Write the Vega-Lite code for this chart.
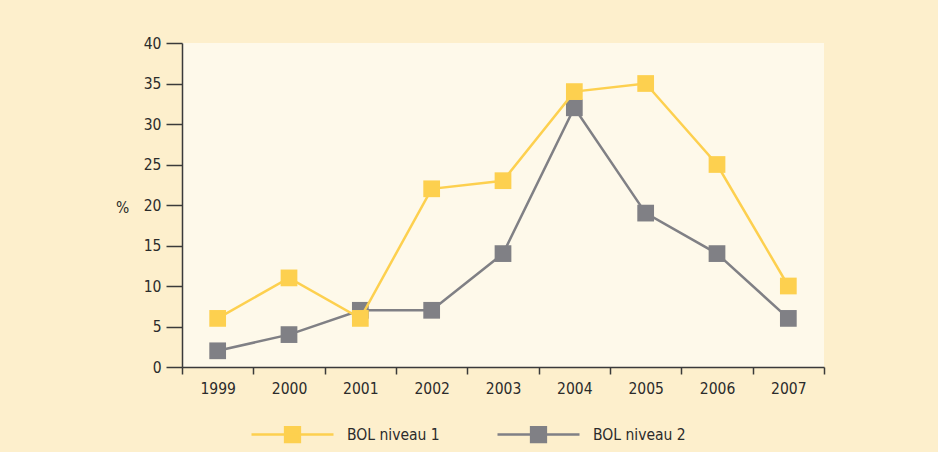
{
  "$schema": "https://vega.github.io/schema/vega-lite/v6.json",
  "width": 642,
  "height": 324,
  "autosize": {"type": "none"},
  "padding": {"left": 182, "top": 43, "right": 114, "bottom": 85},
  "background": "#fdefcc",
  "config": {
    "view": {"fill": "#fef9ea", "stroke": null},
    "font": "Liberation Sans Narrow, DejaVu Sans Condensed, sans-serif"
  },
  "data": {
    "values": [
      {"year": "1999", "series": "BOL niveau 2", "value": 2},
      {"year": "2000", "series": "BOL niveau 2", "value": 4},
      {"year": "2001", "series": "BOL niveau 2", "value": 7},
      {"year": "2002", "series": "BOL niveau 2", "value": 7},
      {"year": "2003", "series": "BOL niveau 2", "value": 14},
      {"year": "2004", "series": "BOL niveau 2", "value": 32},
      {"year": "2005", "series": "BOL niveau 2", "value": 19},
      {"year": "2006", "series": "BOL niveau 2", "value": 14},
      {"year": "2007", "series": "BOL niveau 2", "value": 6},
      {"year": "1999", "series": "BOL niveau 1", "value": 6},
      {"year": "2000", "series": "BOL niveau 1", "value": 11},
      {"year": "2001", "series": "BOL niveau 1", "value": 6},
      {"year": "2002", "series": "BOL niveau 1", "value": 22},
      {"year": "2003", "series": "BOL niveau 1", "value": 23},
      {"year": "2004", "series": "BOL niveau 1", "value": 34},
      {"year": "2005", "series": "BOL niveau 1", "value": 35},
      {"year": "2006", "series": "BOL niveau 1", "value": 25},
      {"year": "2007", "series": "BOL niveau 1", "value": 10}
    ]
  },
  "encoding": {
    "x": {
      "field": "year",
      "type": "ordinal",
      "scale": {"type": "band", "paddingInner": 0, "paddingOuter": 0},
      "axis": {
        "title": null,
        "tickBand": "extent",
        "labelAngle": 0,
        "tickSize": 7,
        "tickWidth": 1.5,
        "tickColor": "#3a3a3a",
        "domainColor": "#3a3a3a",
        "domainWidth": 1.5,
        "labelFontSize": 15.5,
        "labelColor": "#2b2b2b",
        "labelPadding": 7,
        "grid": false
      }
    },
    "y": {
      "field": "value",
      "type": "quantitative",
      "scale": {"domain": [0, 40], "nice": false},
      "axis": {
        "values": [0, 5, 10, 15, 20, 25, 30, 35, 40],
        "title": "%",
        "titleAngle": 0,
        "titleX": -60,
        "titleY": 164,
        "titleAlign": "center",
        "titleBaseline": "middle",
        "titleFontWeight": "normal",
        "titleFontSize": 15.5,
        "titleColor": "#2b2b2b",
        "tickSize": 16,
        "tickWidth": 1.5,
        "tickColor": "#3a3a3a",
        "domainColor": "#3a3a3a",
        "domainWidth": 1.5,
        "labelFontSize": 15.5,
        "labelColor": "#2b2b2b",
        "labelPadding": 5,
        "grid": false
      }
    },
    "color": {
      "field": "series",
      "type": "nominal",
      "scale": {"domain": ["BOL niveau 1", "BOL niveau 2"], "range": ["#fdd04f", "#808085"]},
      "legend": {
        "orient": "none",
        "legendX": 68,
        "legendY": 349,
        "direction": "horizontal",
        "title": null,
        "padding": 0,
        "symbolType": "M-1,0H1M-0.18,-0.18H0.18V0.18H-0.18Z",
        "symbolSize": 6724,
        "symbolStrokeWidth": 2.5,
        "labelFontSize": 15.5,
        "labelColor": "#2b2b2b",
        "labelOffset": 12,
        "columnPadding": 52,
        "encode": {
          "symbols": {
            "update": {
              "fill": {"scale": "color", "field": "value"},
              "stroke": {"scale": "color", "field": "value"},
              "opacity": {"value": 1}
            }
          }
        }
      }
    }
  },
  "layer": [
    {
      "transform": [{"filter": "datum.series === 'BOL niveau 2'"}],
      "mark": {"type": "line", "strokeWidth": 2.5}
    },
    {
      "transform": [{"filter": "datum.series === 'BOL niveau 2'"}],
      "mark": {"type": "point", "shape": "square", "filled": true, "size": 280, "opacity": 1}
    },
    {
      "transform": [{"filter": "datum.series === 'BOL niveau 1'"}],
      "mark": {"type": "line", "strokeWidth": 2.5}
    },
    {
      "transform": [{"filter": "datum.series === 'BOL niveau 1'"}],
      "mark": {"type": "point", "shape": "square", "filled": true, "size": 280, "opacity": 1}
    }
  ]
}
